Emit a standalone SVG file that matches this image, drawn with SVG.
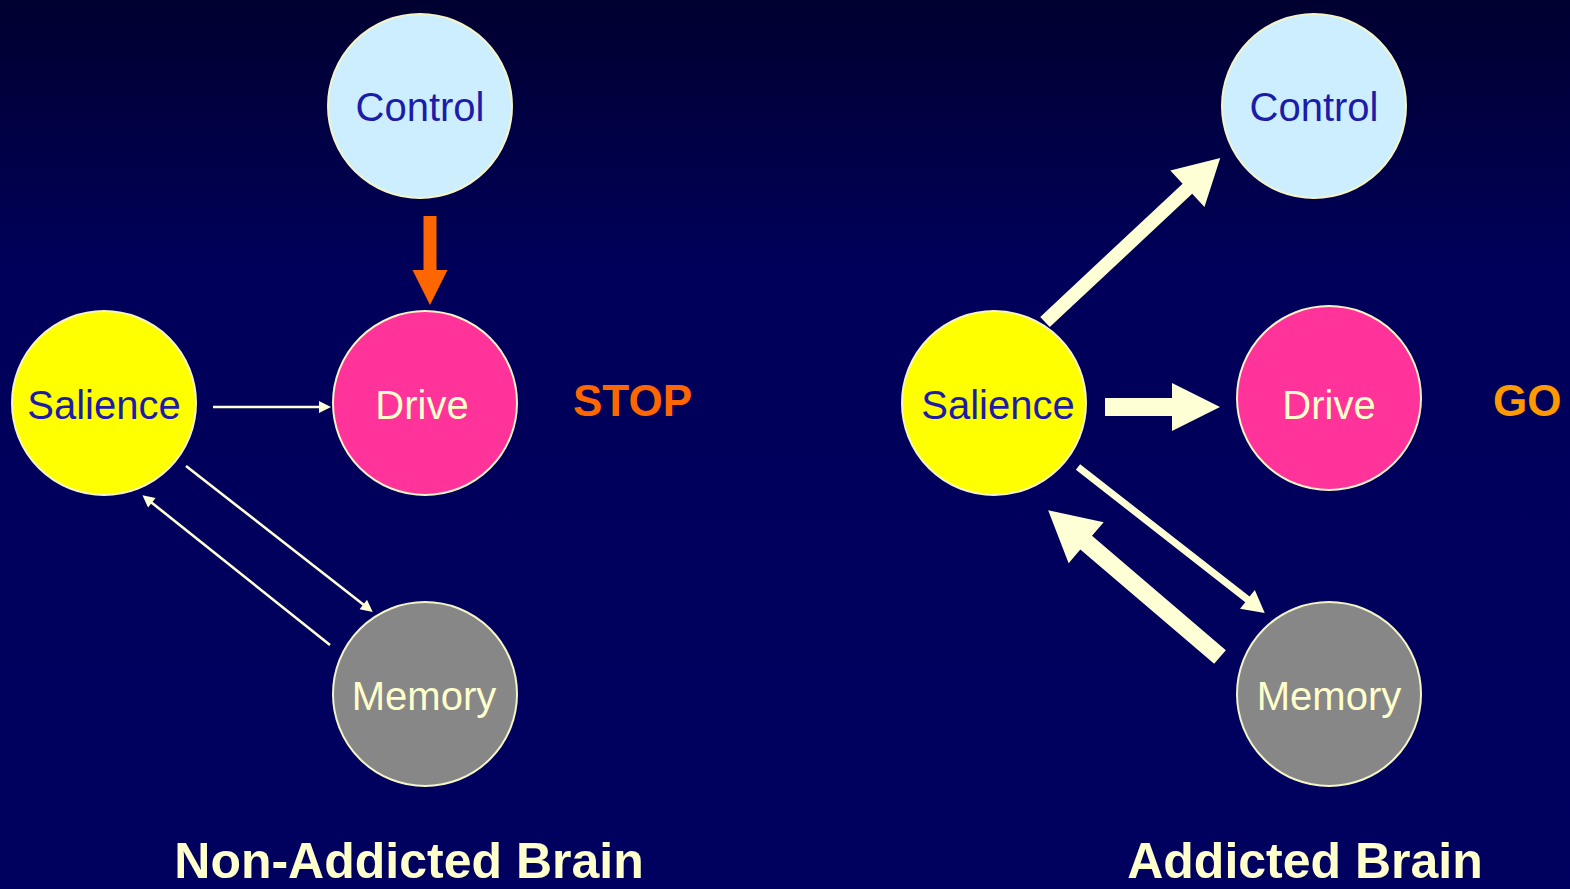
<svg xmlns="http://www.w3.org/2000/svg" width="1570" height="889" viewBox="0 0 1570 889">
<defs>
<linearGradient id="bg" x1="0" y1="0" x2="0" y2="1">
<stop offset="0" stop-color="#000030"/>
<stop offset="0.3" stop-color="#00005a"/>
<stop offset="1" stop-color="#000060"/>
</linearGradient>
</defs>
<style>
.node{stroke:#f4f4c8;stroke-width:2}
.lbl{font-family:"Liberation Sans",Arial,sans-serif;font-size:40px;text-anchor:middle}
.blue{fill:#1c1ca8}
.cream{fill:#ffffcc}
.arrow{fill:#ffffd6}
.title{font-family:"Liberation Sans",Arial,sans-serif;font-weight:bold;font-size:50px;fill:#ffffcc;text-anchor:middle}
.sig{font-family:"Liberation Sans",Arial,sans-serif;font-weight:bold;font-size:44px}
</style>
<rect width="1570" height="889" fill="url(#bg)"/>

<g id="connectors">
<!-- left -->
<g transform="translate(430,216) rotate(90)"><polygon fill="#ff6600" points="0,-6.5 54,-6.5 54,-17.5 89,0 54,17.5 54,6.5 0,6.5"/></g>
<g transform="translate(213,407)"><polygon class="arrow" points="0,-1.3 106,-1.3 106,-6 118,0 106,6 106,1.3 0,1.3"/></g>
<g transform="translate(186,466) rotate(38)"><polygon class="arrow" points="0,-1.3 225,-1.3 225,-6 237,0 225,6 225,1.3 0,1.3"/></g>
<g transform="translate(330,645) rotate(218.6)"><polygon class="arrow" points="0,-1.3 228,-1.3 228,-6 240,0 228,6 228,1.3 0,1.3"/></g>
<!-- right -->
<g transform="translate(1045,322) rotate(-43.1)"><polygon class="arrow" points="0,-7 195,-7 195,-25 240,0 195,25 195,7 0,7"/></g>
<g transform="translate(1105,407)"><polygon class="arrow" points="0,-9 67,-9 67,-24 115,0 67,24 67,9 0,9"/></g>
<g transform="translate(1078,467) rotate(38)"><polygon class="arrow" points="0,-3.5 215,-3.5 215,-12 237,0 215,12 215,3.5 0,3.5"/></g>
<g transform="translate(1220,657) rotate(220.5)"><polygon class="arrow" points="0,-9 176,-9 176,-27 226,0 176,27 176,9 0,9"/></g>
</g>

<g id="left-control"><circle class="node" cx="420" cy="106" r="92" fill="#cceeff"/><text class="lbl blue" x="420" y="121">Control</text></g>
<g id="left-salience"><circle class="node" cx="104" cy="403" r="92" fill="#ffff00"/><text class="lbl blue" x="104" y="419">Salience</text></g>
<g id="left-drive"><circle class="node" cx="425" cy="403" r="92" fill="#ff3399"/><text class="lbl cream" x="422" y="419">Drive</text></g>
<g id="left-memory"><circle class="node" cx="425" cy="694" r="92" fill="#878787"/><text class="lbl cream" x="424" y="710">Memory</text></g>

<g id="right-control"><circle class="node" cx="1314" cy="106" r="92" fill="#cceeff"/><text class="lbl blue" x="1314" y="121">Control</text></g>
<g id="right-salience"><circle class="node" cx="994" cy="403" r="92" fill="#ffff00"/><text class="lbl blue" x="998" y="419">Salience</text></g>
<g id="right-drive"><circle class="node" cx="1329" cy="398" r="92" fill="#ff3399"/><text class="lbl cream" x="1329" y="419">Drive</text></g>
<g id="right-memory"><circle class="node" cx="1329" cy="694" r="92" fill="#878787"/><text class="lbl cream" x="1329" y="710">Memory</text></g>

<g id="labels">
<text class="sig" x="573" y="416" fill="#ff6600">STOP</text>
<text class="sig" x="1493" y="416" fill="#ff9900">GO</text>
<text class="title" x="409" y="878">Non-Addicted Brain</text>
<text class="title" x="1305" y="878">Addicted Brain</text>
</g>
</svg>
